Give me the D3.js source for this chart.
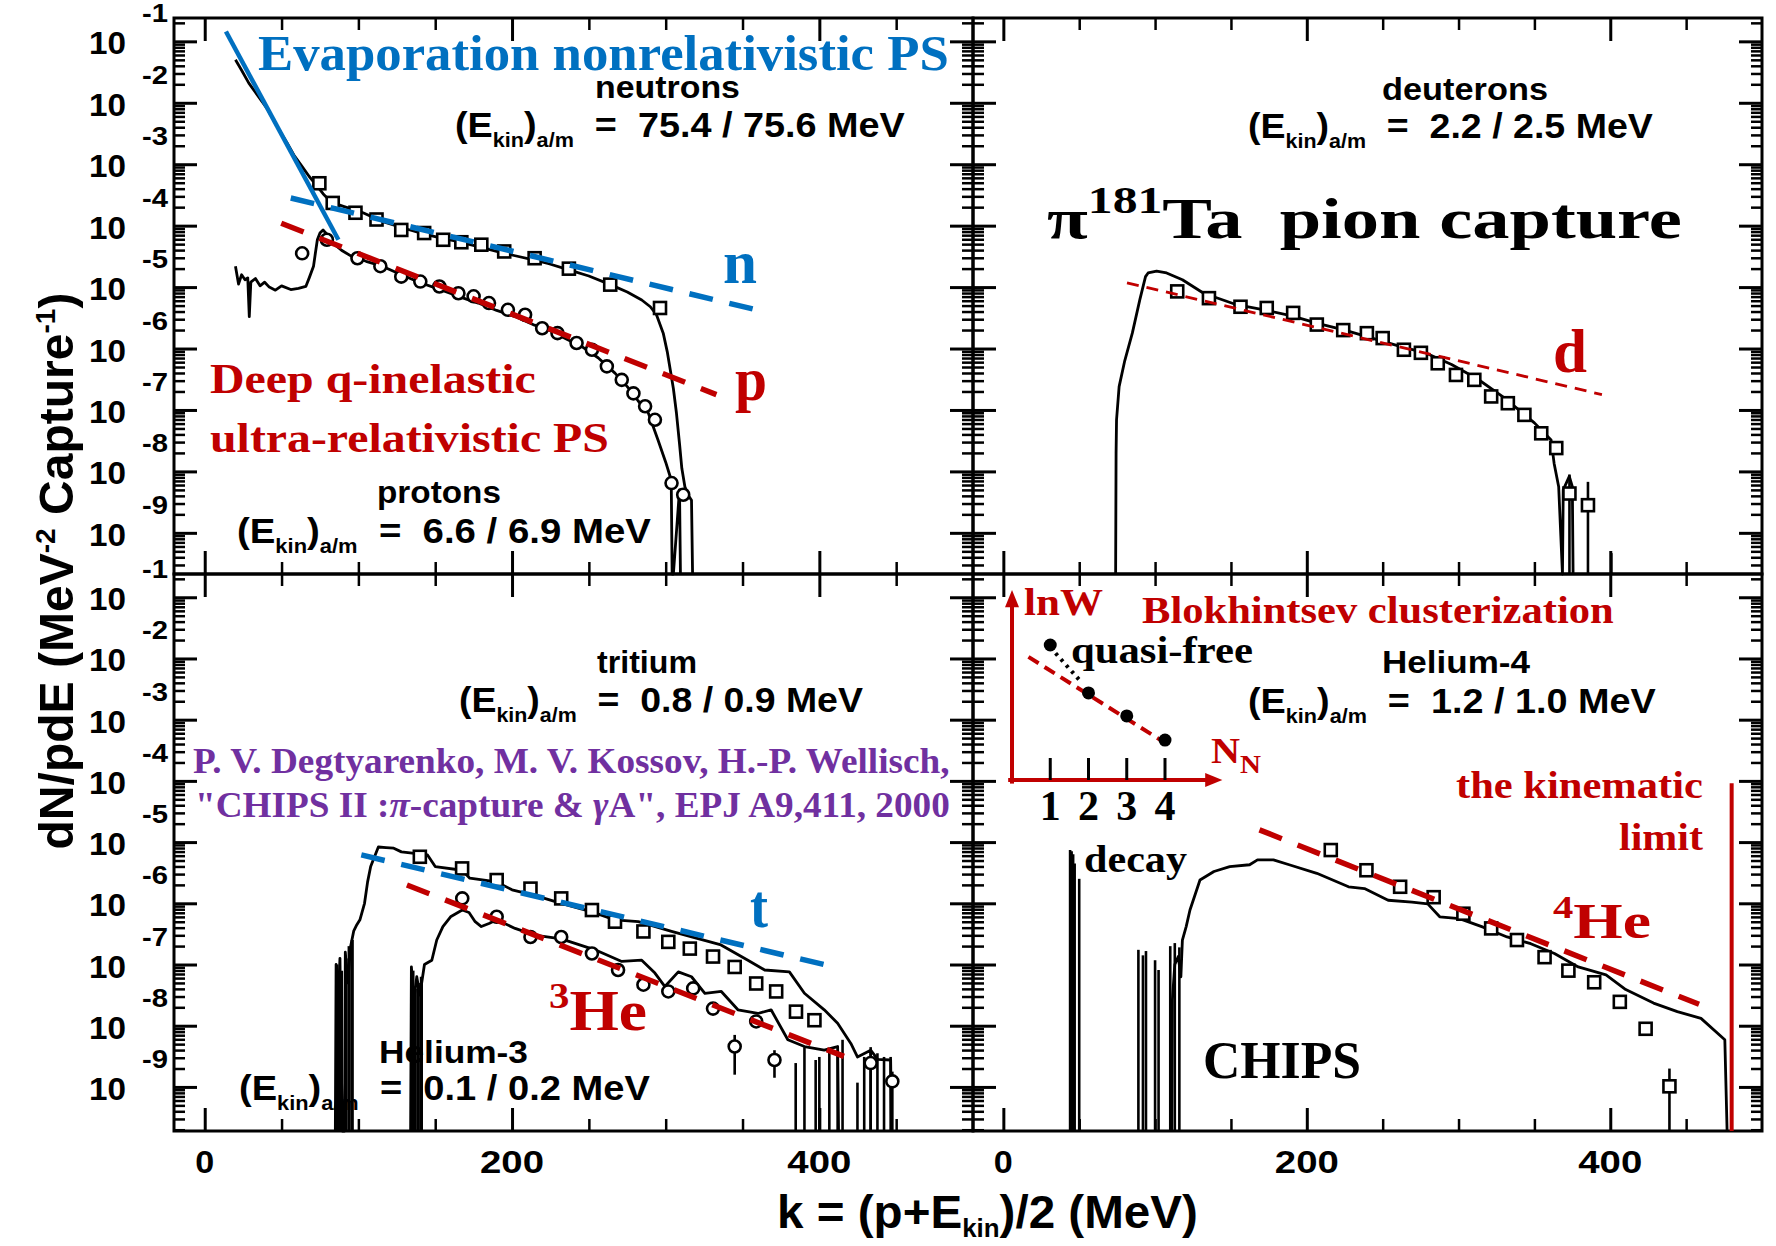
<!DOCTYPE html>
<html>
<head>
<meta charset="utf-8">
<script src="https://cdn.jsdelivr.net/npm/d3@7"></script>
<style>
  html, body { margin: 0; padding: 0; background: #fff; }
  svg { display: block; }
</style>
</head>
<body>
<svg id="fig" width="1776" height="1246"></svg>
<script>
// ---------------------------------------------------------------
// Spectra of pi- capture on 181Ta: k = (p + Ekin)/2 in MeV versus
// log10(dN/pdE).  Each pair is [k, log10 value].
// ---------------------------------------------------------------
const neutronCalc = [[20,-1.30],[24,-1.47],[28.7,-1.68],[35,-1.90],[41,-2.11],[47,-2.38],[53.5,-2.65],[58,-2.85],[63.4,-3.04],[68,-3.20],[73.3,-3.36],[77,-3.48],[80.8,-3.58],[86,-3.65],[90.7,-3.69],[97,-3.74],[103,-3.79],[115.5,-3.93],[128,-4.03],[140.3,-4.12],[152,-4.19],[165,-4.26],[178,-4.34],[190,-4.42],[202,-4.49],[214.7,-4.56],[224,-4.62],[237,-4.72],[250,-4.82],[264,-4.96],[275,-5.08],[284.4,-5.21],[290,-5.32],[294,-5.45],[298.4,-5.75],[301,-6.05],[303,-6.35],[305,-6.65],[307,-7.05],[309,-7.55],[310.5,-7.95],[312.5,-8.25],[315,-8.40],[316.8,-8.47],[317.5,-9.67]];
const neutronData = [[74.6,-3.31],[83.3,-3.63],[98.1,-3.79],[111.8,-3.90],[127.9,-4.07],[142.8,-4.12],[155.2,-4.23],[167,-4.27],[180,-4.31],[194.9,-4.42],[214.7,-4.53],[237,-4.70],[263.9,-4.96],[296.3,-5.34]];

const protonCalc = [[20,-4.66],[22,-4.95],[24,-4.80],[26.2,-4.88],[28,-4.85],[29,-5.48],[30,-4.92],[33,-4.86],[36,-4.98],[39,-4.92],[42,-5.00],[46,-5.05],[50,-4.98],[56,-5.04],[61,-5.02],[65.8,-4.99],[68,-4.85],[70.8,-4.66],[72,-4.45],[73.3,-4.23],[75,-4.12],[77,-4.07],[80,-4.15],[83.3,-4.28],[89,-4.40],[95.6,-4.50],[105,-4.58],[115.5,-4.66],[128,-4.80],[140.3,-4.93],[152,-5.03],[165,-5.15],[178,-5.26],[190,-5.38],[202,-5.48],[214.7,-5.62],[224,-5.70],[235,-5.84],[245.5,-5.97],[256,-6.15],[267,-6.40],[275,-6.62],[282,-6.85],[288.7,-7.05],[295,-7.49],[300,-7.85],[303.6,-8.14],[304.2,-9.67],[305,-9.67],[309,-8.30],[309.6,-9.67]];
const protonData = [[63.4,-4.45],[79.5,-4.23],[99.4,-4.53],[114.3,-4.66],[127.9,-4.83],[140.3,-4.91],[152.7,-4.99],[165.1,-5.10],[175,-5.15],[185,-5.26],[197.3,-5.37],[208.5,-5.45],[219.6,-5.67],[229.6,-5.75],[242,-5.91],[252,-6.02],[261.7,-6.29],[271.4,-6.51],[279,-6.73],[286.6,-6.94],[293,-7.16],[303.8,-8.19],[311.4,-8.38]];

const evaporationLine = [[13.8,-0.84],[87,-4.23]];
const neutronFit = [[56,-3.55],[364,-5.40]];
const protonFit  = [[49.8,-3.96],[333,-6.75]];

const deuteronCalc = [[74,-9.67],[74.3,-7.70],[74.6,-7.16],[76.3,-6.62],[80,-6.20],[85,-5.75],[90,-5.20],[93.7,-4.83],[95.4,-4.77],[101,-4.74],[107.6,-4.77],[118,-4.88],[132,-5.10],[152.8,-5.28],[173.6,-5.38],[190,-5.47],[208.4,-5.60],[225,-5.70],[243,-5.83],[262,-5.97],[278,-6.07],[295.4,-6.26],[312.8,-6.50],[330,-6.80],[350,-7.21],[361,-7.49],[363,-7.87],[366,-8.25],[368.5,-9.67],[369,-8.30],[373,-8.08],[375,-8.25],[375.5,-9.67]];
const deuteronData = [[114.6,-5.07],[135.5,-5.18],[156.3,-5.32],[173.6,-5.34],[191,-5.42],[206.6,-5.61],[224,-5.70],[239.6,-5.75],[250,-5.83],[264,-6.02],[275.2,-6.07],[286.3,-6.24],[298.3,-6.43],[310.4,-6.51],[321.5,-6.78],[332.5,-6.89],[343.4,-7.08],[354.5,-7.38],[364.4,-7.62],[373.1,-8.36],[385.3,-8.55]];
const deuteronErr = [[373.1,-8.05,-9.67],[385.3,-8.17,-9.67]];
const deuteronSpikes = [[400.7,-9.33]];
const deuteronFit = [[81.5,-4.93],[394.5,-6.75]];

const tritonCalc = [[85,-9.72],[85.5,-7.00],[87,-7.50],[88,-6.90],[89.5,-9.72],[91,-9.72],[91.5,-6.80],[93,-7.30],[95,-6.70],[97,-6.45],[99,-6.35],[101,-6.27],[104,-6.00],[106,-5.65],[108,-5.40],[113,-5.08],[118,-5.09],[123,-5.10],[128,-5.16],[145,-5.21],[150,-5.40],[167.6,-5.46],[172.5,-5.59],[190,-5.65],[200,-5.78],[214.7,-5.87],[232,-6.00],[252,-6.14],[267,-6.27],[282.2,-6.30],[303.8,-6.46],[336,-6.68],[353.5,-6.93],[364.4,-7.09],[380.5,-7.12],[390.3,-7.47],[403.2,-7.74],[411.9,-7.96],[420.5,-8.29],[424.8,-8.51],[433.4,-8.40],[438,-8.55],[446.4,-8.56],[447,-9.72]];
const tritonData = [[140,-5.24],[167.5,-5.43],[190,-5.62],[212,-5.76],[232,-5.92],[252,-6.11],[267,-6.30],[285.5,-6.46],[301.7,-6.63],[315.7,-6.74],[330.8,-6.87],[344.9,-7.04],[358.9,-7.31],[371.9,-7.44],[384.8,-7.77],[396.8,-7.91]];
const tritonNoise = [[86,-7.0],[87.5,-7.3],[89,-7.1],[92,-6.9],[94,-6.7],[96,-6.6]];
const tritonFit = [[101.9,-5.21],[409.7,-7.04]];

const he3Calc = [[134,-9.72],[134.5,-7.04],[136,-7.60],[138,-7.20],[140,-7.50],[143,-7.00],[147.8,-6.93],[151,-6.60],[155,-6.38],[160,-6.22],[167.6,-6.11],[172,-6.15],[176,-6.30],[180,-6.38],[185,-6.33],[190,-6.27],[202,-6.41],[214.7,-6.52],[232,-6.58],[254,-6.76],[271.4,-6.95],[284.4,-6.93],[293,-7.14],[299.5,-7.36],[308.2,-7.12],[316.8,-7.20],[325.5,-7.47],[336.2,-7.44],[347,-7.74],[360,-7.80],[368.6,-7.74],[379.5,-8.23],[390.3,-8.34],[403.2,-8.40],[411.9,-8.34],[412.5,-9.72]];
const he3Data = [[167.6,-5.92],[190,-6.22],[212,-6.55],[232,-6.55],[252,-6.82],[269,-7.09],[285.5,-7.33],[301.7,-7.44],[317.9,-7.39],[330.8,-7.72],[358.9,-7.93],[344.9,-8.34],[370.8,-8.56],[433.4,-8.61],[447.5,-8.91]];
const he3Err = [[344.9,-8.15,-8.80],[370.8,-8.40,-8.85],[433.4,-8.35,-9.72],[447.5,-8.75,-9.72]];
const he3Noise = [[135.5,-7.1],[137,-7.4],[139,-7.3],[141,-7.2]];
const he3Spikes = [[384.6,-8.61],[390.3,-8.35],[397.6,-8.56],[400,-8.51],[406.5,-8.40],[411.9,-8.40],[415.1,-8.23],[424.8,-8.93],[429.2,-8.51],[433.4,-8.40],[437.8,-8.45],[442.1,-8.51],[446.4,-8.51]];
const he3Fit = [[131.6,-5.70],[416,-8.50]];

const he4Calc = [[111,-9.72],[111.4,-7.58],[113,-7.00],[115.3,-6.87],[117,-7.20],[118,-6.60],[120.5,-6.38],[123,-6.11],[129.6,-5.62],[138.8,-5.48],[149.2,-5.40],[162.3,-5.37],[167.5,-5.29],[178,-5.29],[188.4,-5.37],[206.6,-5.51],[227.5,-5.73],[238,-5.76],[253.6,-5.95],[269.3,-5.98],[279.7,-6.01],[287.6,-6.22],[300.6,-6.25],[316.2,-6.39],[332,-6.55],[347.6,-6.66],[363.2,-6.82],[378.9,-7.04],[397.2,-7.17],[410.2,-7.41],[428.5,-7.63],[444.2,-7.77],[459.8,-7.88],[475.5,-8.23],[477,-9.72]];
const he4Data = [[215.8,-5.13],[239.3,-5.46],[261.5,-5.73],[283.6,-5.90],[303.2,-6.17],[321.5,-6.41],[338.5,-6.60],[356.7,-6.88],[372.4,-7.10],[389.4,-7.29],[406.3,-7.61],[423.3,-8.05],[439,-8.99]];
const he4Err = [[439,-8.70,-9.72]];
const he4Spikes = [[44,-5.13],[45,-5.15],[46,-5.20],[47,-5.35],[50,-5.60],[89,-6.76],[92,-6.85],[94,-6.78],[100,-6.93],[102.3,-7.09],[110,-6.70],[113,-6.65],[116,-6.72]];
const he4Fit = [[168.8,-4.80],[458.5,-7.65]];
const kinematicLimit = [[480,-4.04],[480,-9.72]];

// Inset: cluster probability versus number of nucleons
const clusterN   = [1, 2, 3, 4];
const clusterLnW = [3.75, 2.42, 1.78, 1.11];
const clusterFit = [[0.43,3.42],[3.96,1.06]];
const quasiFreeLink = [[1.14,3.52],[1.76,2.78]];

// Tick values and labels
const decadeExps = [-1,-2,-3,-4,-5,-6,-7,-8,-9];
const kMajorTicks = [0, 200, 400];
const kMinorTicks = [50, 100, 150, 250, 300, 350, 450];
const kTickLabels = ['0', '200', '400'];

// ---------------------------------------------------------------
const BLUE = '#0070C0', RED = '#C00000', PURPLE = '#7030A0';
const SANS = "'Liberation Sans', Arial, Helvetica, sans-serif";
const SERIF = "'Liberation Serif', 'Times New Roman', Times, serif";

const svg = d3.select('#fig');
svg.append('rect').attr('width', 1776).attr('height', 1246).attr('fill', '#fff');

const panelDefs = [
  { name: 'tl', xr: [174, 973],  yr: [574, 18],   lg: [-9.67, -0.62] },
  { name: 'tr', xr: [973, 1762], yr: [574, 18],   lg: [-9.67, -0.62] },
  { name: 'bl', xr: [174, 973],  yr: [1131, 574], lg: [-9.72, -0.62] },
  { name: 'br', xr: [973, 1762], yr: [1131, 574], lg: [-9.72, -0.62] }
];
const P = {};
panelDefs.forEach(d => {
  P[d.name] = { def: d, x: d3.scaleLinear([-20, 500], d.xr), y: d3.scaleLinear(d.lg, d.yr) };
});

const minorLg = [];
for (let n = -10; n <= -1; n++) for (let m = 2; m <= 9; m++) minorLg.push(n + Math.log10(m));

// ---- frames and ticks ----
function frame(p) {
  const { x, y, def } = p;
  const [x0, x1] = def.xr, [yb, yt] = def.yr;
  const g = svg.append('g');
  const mk = (axis, tx, ty, vals, size, sw) => {
    const a = g.append('g').attr('transform', `translate(${tx},${ty})`)
      .call(axis.tickValues(vals).tickSize(size).tickFormat(''));
    a.select('.domain').remove();
    a.selectAll('line').attr('stroke', '#000').attr('stroke-width', sw);
  };
  const minors = minorLg.filter(v => v > def.lg[0] && v < def.lg[1]);
  mk(d3.axisRight(y), x0, 0, decadeExps, 23, 3);
  mk(d3.axisRight(y), x0, 0, minors, 11, 2.5);
  mk(d3.axisLeft(y), x1, 0, decadeExps, 23, 3);
  mk(d3.axisLeft(y), x1, 0, minors, 11, 2.5);
  mk(d3.axisTop(x), 0, yb, kMajorTicks, 23, 3);
  mk(d3.axisTop(x), 0, yb, kMinorTicks, 12, 2.5);
  mk(d3.axisBottom(x), 0, yt, kMajorTicks, 23, 3);
  mk(d3.axisBottom(x), 0, yt, kMinorTicks, 12, 2.5);
  g.append('rect').attr('x', x0).attr('y', yt).attr('width', x1 - x0).attr('height', yb - yt)
    .attr('fill', 'none').attr('stroke', '#000').attr('stroke-width', 3);
}
Object.values(P).forEach(frame);

// ---- drawing helpers ----
function curve(p, data, stroke = '#000', sw = 2.8, dash = null) {
  svg.append('path').datum(data)
    .attr('d', d3.line().x(d => p.x(d[0])).y(d => p.y(d[1])))
    .attr('fill', 'none').attr('stroke', stroke).attr('stroke-width', sw)
    .attr('stroke-linejoin', 'round').attr('stroke-dasharray', dash);
}
function squares(p, data) {
  svg.append('g').selectAll('rect').data(data).join('rect')
    .attr('x', d => p.x(d[0]) - 6).attr('y', d => p.y(d[1]) - 6)
    .attr('width', 12).attr('height', 12)
    .attr('fill', '#fff').attr('stroke', '#000').attr('stroke-width', 2.6);
}
function circles(p, data) {
  svg.append('g').selectAll('circle').data(data).join('circle')
    .attr('cx', d => p.x(d[0])).attr('cy', d => p.y(d[1])).attr('r', 6)
    .attr('fill', '#fff').attr('stroke', '#000').attr('stroke-width', 2.6);
}
function spikes(p, data, sw = 2.6) {
  svg.append('g').selectAll('line').data(data).join('line')
    .attr('x1', d => p.x(d[0])).attr('x2', d => p.x(d[0]))
    .attr('y1', d => p.y(d[1])).attr('y2', p.y(p.def.lg[0]))
    .attr('stroke', '#000').attr('stroke-width', sw);
}
function errs(p, data) {
  svg.append('g').selectAll('line').data(data).join('line')
    .attr('x1', d => p.x(d[0])).attr('x2', d => p.x(d[0]))
    .attr('y1', d => p.y(d[1])).attr('y2', d => p.y(d[2]))
    .attr('stroke', '#000').attr('stroke-width', 2.6);
}

// text fitted to a given width; parts = [[string, {size, off, italic}]]
function fitText(o) {
  const t = svg.append('text')
    .attr('font-family', o.font || SANS).attr('font-size', o.size)
    .attr('font-weight', o.weight || 'bold').attr('fill', o.fill || '#000')
    .style('white-space', 'pre');
  let prev = 0;
  (o.parts || [[o.text]]).forEach(([s, st]) => {
    st = st || {};
    const off = st.off || 0;
    const ts = t.append('tspan').attr('dy', off - prev).text(s);
    if (st.size) ts.attr('font-size', st.size);
    if (st.italic) ts.attr('font-style', 'italic');
    prev = off;
  });
  const w0 = t.node().getComputedTextLength();
  const sx = o.w ? o.w / w0 : 1;
  const W = w0 * sx;
  if (o.rotate) {
    t.attr('transform', `translate(${o.x},${o.y + W / 2}) rotate(-90) scale(${sx},1)`);
  } else {
    let x = o.x;
    if (o.anchor === 'middle') x -= W / 2;
    else if (o.anchor === 'end') x -= W;
    t.attr('transform', `translate(${x},${o.y}) scale(${sx},1)`);
  }
  return t;
}
const ekin = v => [['(E'], ['kin', { size: 20, off: 10 }], [')'], ['a/m', { size: 20, off: 10 }], ['  =  ' + v + ' MeV']];

// ---- axis labels ----
[P.tl, P.bl].forEach(p => {
  decadeExps.forEach(n => {
    fitText({ text: '10', x: 89, y: p.y(n) + 13, w: 37, size: 32 });
    fitText({ text: String(n), x: 142, y: p.y(n) - 19, w: 26, size: 26 });
  });
});
[P.bl, P.br].forEach(p => {
  kMajorTicks.forEach((k, i) => {
    fitText({ text: kTickLabels[i], x: p.x(k), y: 1173, w: kTickLabels[i].length === 1 ? 19 : 64, size: 32, anchor: 'middle' });
  });
});
fitText({ x: 777, y: 1228, w: 421, size: 46,
  parts: [['k = (p+E'], ['kin', { size: 25, off: 9 }], [')/2 (MeV)']] });
fitText({ x: 73, y: 571, w: 557, size: 48, rotate: true,
  parts: [['dN/pdE (MeV'], ['-2', { size: 28, off: -18 }], [' Capture'], ['-1', { size: 28, off: -18 }], [')']] });

// ---- top-left: neutrons and protons ----
{
  const p = P.tl;
  curve(p, neutronCalc);
  curve(p, protonCalc);
  squares(p, neutronData);
  circles(p, protonData);
  curve(p, evaporationLine, BLUE, 4.5);
  curve(p, neutronFit, BLUE, 5.5, '24 17');
  curve(p, protonFit, RED, 5.5, '24 17');
  fitText({ text: 'Evaporation nonrelativistic PS', x: 258, y: 70, w: 691, size: 50, font: SERIF, fill: BLUE });
  fitText({ text: 'neutrons', x: 595, y: 98, w: 145, size: 32 });
  fitText({ parts: ekin('75.4 / 75.6'), x: 455, y: 137, w: 450, size: 35 });
  fitText({ text: 'protons', x: 377, y: 503, w: 124, size: 32 });
  fitText({ parts: ekin('6.6 / 6.9'), x: 237, y: 543, w: 414, size: 35 });
  fitText({ text: 'Deep q-inelastic', x: 210, y: 393, w: 326, size: 43, font: SERIF, fill: RED });
  fitText({ text: 'ultra-relativistic PS', x: 210, y: 452, w: 399, size: 43, font: SERIF, fill: RED });
  fitText({ text: 'n', x: 723, y: 283, w: 34, size: 62, font: SERIF, fill: BLUE });
  fitText({ text: 'p', x: 735, y: 400, w: 32, size: 62, font: SERIF, fill: RED });
}

// ---- top-right: deuterons ----
{
  const p = P.tr;
  curve(p, deuteronCalc);
  spikes(p, deuteronSpikes);
  errs(p, deuteronErr);
  squares(p, deuteronData);
  curve(p, deuteronFit, RED, 2.8, '12 8');
  fitText({ text: 'deuterons', x: 1382, y: 100, w: 166, size: 32 });
  fitText({ parts: ekin('2.2 / 2.5'), x: 1248, y: 138, w: 405, size: 35 });
  fitText({ parts: [['\u03C0'], ['181', { size: 38, off: -25 }], ['Ta  pion capture']],
    x: 1047, y: 238, w: 635, size: 57, font: SERIF, fill: '#000' });
  fitText({ text: 'd', x: 1553, y: 372, w: 34, size: 62, font: SERIF, fill: RED });
}

// ---- bottom-left: tritons and helium-3 ----
{
  const p = P.bl;
  curve(p, tritonCalc);
  curve(p, he3Calc);
  spikes(p, tritonNoise, 3.2);
  spikes(p, he3Noise, 3.2);
  spikes(p, he3Spikes);
  errs(p, he3Err);
  squares(p, tritonData);
  circles(p, he3Data);
  curve(p, tritonFit, BLUE, 5.5, '24 17');
  curve(p, he3Fit, RED, 5.5, '24 17');
  fitText({ text: 'tritium', x: 597, y: 673, w: 100, size: 32 });
  fitText({ parts: ekin('0.8 / 0.9'), x: 459, y: 712, w: 404, size: 35 });
  fitText({ text: 'P. V. Degtyarenko, M. V. Kossov, H.-P. Wellisch,', x: 193, y: 773, w: 757, size: 35, font: SERIF, fill: PURPLE });
  fitText({ parts: [['"CHIPS II :'], ['\u03C0', { italic: true }], ['-capture & '], ['\u03B3', { italic: true }], ['A", EPJ A9,411, 2000']],
    x: 195, y: 817, w: 755, size: 35, font: SERIF, fill: PURPLE });
  fitText({ text: 't', x: 750, y: 927, w: 18, size: 62, font: SERIF, fill: BLUE });
  fitText({ parts: [['3', { size: 36, off: -22 }], ['He']], x: 549, y: 1030, w: 98, size: 56, font: SERIF, fill: RED });
  fitText({ text: 'Helium-3', x: 379, y: 1063, w: 149, size: 32 });
  fitText({ parts: ekin('0.1 / 0.2'), x: 239, y: 1100, w: 411, size: 35 });
}

// ---- bottom-right: helium-4 ----
{
  const p = P.br;
  curve(p, he4Calc);
  spikes(p, he4Spikes);
  errs(p, he4Err);
  squares(p, he4Data);
  curve(p, he4Fit, RED, 5.5, '24 17');
  curve(p, kinematicLimit, RED, 4);
  fitText({ text: 'Helium-4', x: 1382, y: 673, w: 148, size: 32 });
  fitText({ parts: ekin('1.2 / 1.0'), x: 1248, y: 713, w: 408, size: 35 });
  fitText({ text: 'the kinematic', x: 1456, y: 798, w: 247, size: 38, font: SERIF, fill: RED });
  fitText({ text: 'limit', x: 1619, y: 850, w: 84, size: 38, font: SERIF, fill: RED });
  fitText({ text: 'decay', x: 1084, y: 872, w: 103, size: 38, font: SERIF });
  fitText({ parts: [['4', { size: 32, off: -20 }], ['He']], x: 1553, y: 938, w: 98, size: 50, font: SERIF, fill: RED });
  fitText({ text: 'CHIPS', x: 1203, y: 1078, w: 158, size: 52, font: SERIF });

  // inset: Blokhintsev clusterization
  const ix = d3.scaleLinear([0, 4], [1012, 1165]);
  const iy = d3.scaleLinear([0, 5], [780, 600]);
  const ig = svg.append('g');
  ig.append('line').attr('x1', ix(0)).attr('x2', ix(0)).attr('y1', iy(-0.1)).attr('y2', iy(4.9))
    .attr('stroke', RED).attr('stroke-width', 4);
  ig.append('path').attr('d', `M${ix(0)},${iy(5.28)} L${ix(0) - 7},${iy(4.8)} L${ix(0) + 7},${iy(4.8)} Z`).attr('fill', RED);
  ig.append('line').attr('x1', ix(-0.1)).attr('x2', ix(5.1)).attr('y1', iy(0)).attr('y2', iy(0))
    .attr('stroke', RED).attr('stroke-width', 4);
  ig.append('path').attr('d', `M${ix(5.5)},${iy(0)} L${ix(5.05)},${iy(0) - 7} L${ix(5.05)},${iy(0) + 7} Z`).attr('fill', RED);
  ig.selectAll('line.tk').data(clusterN).join('line').attr('class', 'tk')
    .attr('x1', d => ix(d)).attr('x2', d => ix(d)).attr('y1', iy(0)).attr('y2', iy(0) - 22)
    .attr('stroke', '#000').attr('stroke-width', 3);
  ig.append('path').datum(clusterFit).attr('d', d3.line().x(d => ix(d[0])).y(d => iy(d[1])))
    .attr('stroke', RED).attr('stroke-width', 4).attr('stroke-dasharray', '12 7').attr('fill', 'none');
  ig.append('path').datum(quasiFreeLink).attr('d', d3.line().x(d => ix(d[0])).y(d => iy(d[1])))
    .attr('stroke', '#000').attr('stroke-width', 4).attr('stroke-dasharray', '3 5').attr('fill', 'none');
  ig.selectAll('circle').data(clusterN).join('circle')
    .attr('cx', d => ix(d)).attr('cy', (d, i) => iy(clusterLnW[i])).attr('r', 6.5).attr('fill', '#000');
  clusterN.forEach(n => {
    svg.append('text').attr('x', ix(n)).attr('y', 820).attr('text-anchor', 'middle')
      .attr('font-family', SERIF).attr('font-weight', 'bold').attr('font-size', 42).attr('fill', '#000').text(String(n));
  });
  fitText({ text: 'lnW', x: 1024, y: 615, w: 79, size: 38, font: SERIF, fill: RED });
  fitText({ text: 'Blokhintsev clusterization', x: 1142, y: 623, w: 472, size: 38, font: SERIF, fill: RED });
  fitText({ text: 'quasi-free', x: 1071, y: 663, w: 182, size: 38, font: SERIF });
  fitText({ parts: [['N'], ['N', { size: 26, off: 10 }]], x: 1211, y: 763, w: 50, size: 36, font: SERIF, fill: RED });
}
</script>
</body>
</html>
